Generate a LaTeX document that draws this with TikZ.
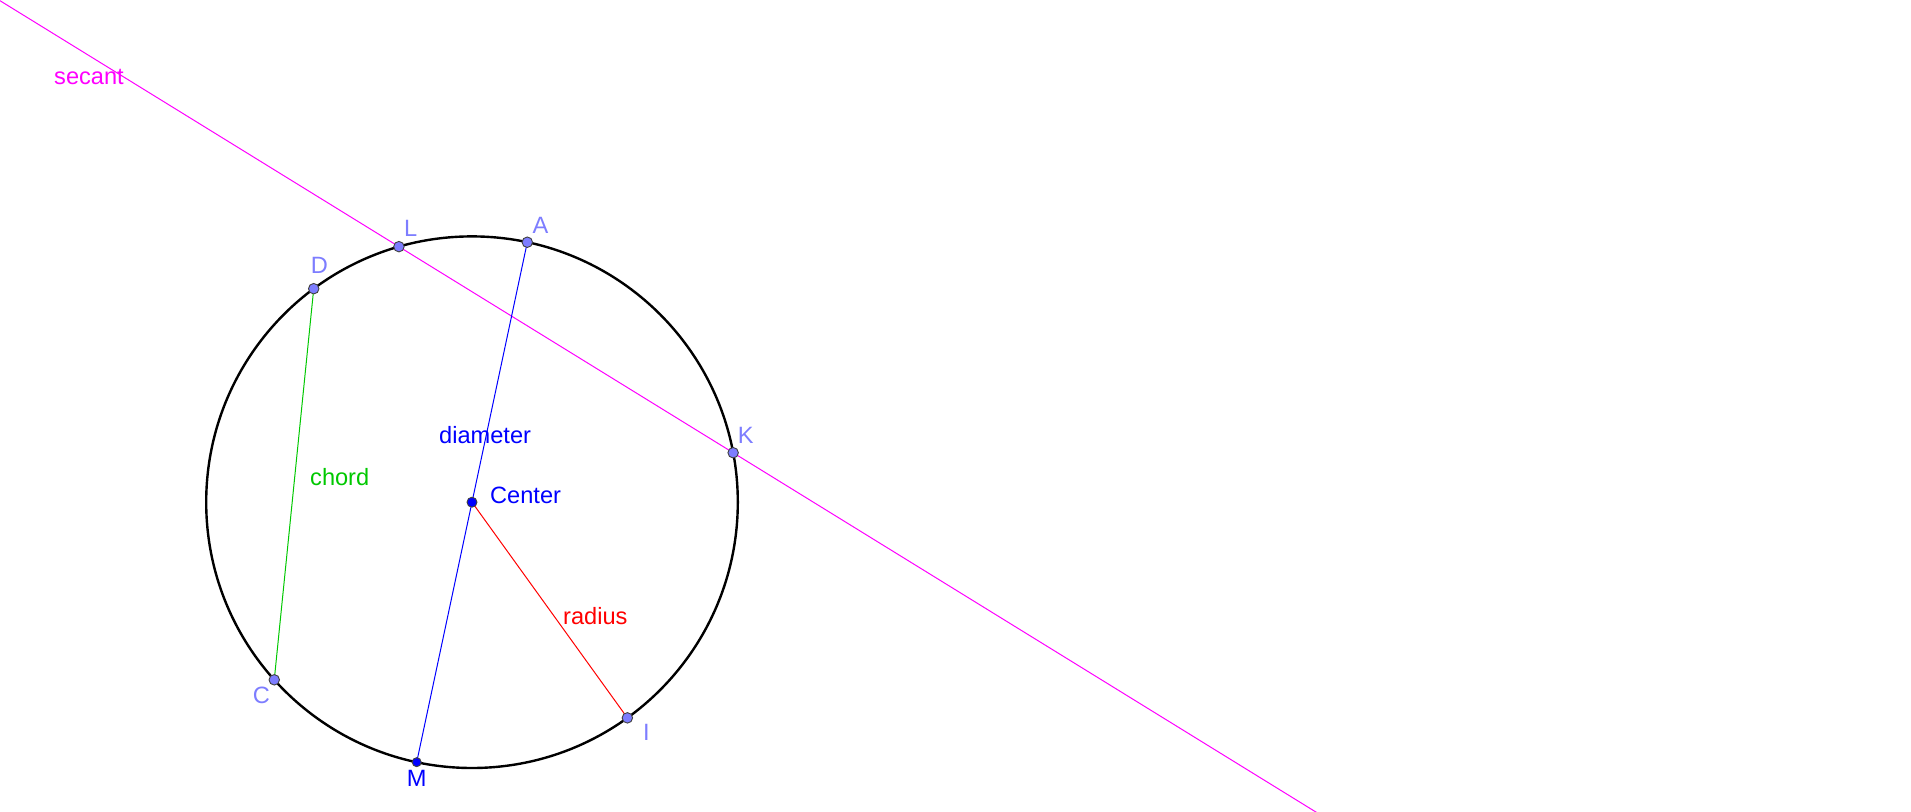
\documentclass[tikz,border=0pt]{standalone}
\usepackage{fontspec}
\setmainfont{Liberation Sans}
\usetikzlibrary{calc}
\definecolor{ptblue}{RGB}{125,125,255}
\definecolor{dblue}{RGB}{0,0,255}
\definecolor{cgreen}{RGB}{0,200,0}
\definecolor{cred}{RGB}{255,0,0}
\definecolor{cmag}{RGB}{255,0,255}
\tikzset{
  ptdot/.style={circle, draw=black!75, line width=0.9pt, fill=ptblue, minimum size=10.5pt, inner sep=0pt},
  ctdot/.style={circle, draw=black!75, line width=0.9pt, fill=dblue, minimum size=10pt, inner sep=0pt},
  lbl/.style={anchor=base west, inner sep=0pt, font=\fontsize{23.6}{28}\selectfont},
  thinline/.style={line width=1pt},
}
\begin{document}
\begin{tikzpicture}[x=1pt,y=-1pt]
\useasboundingbox (0,0) rectangle (1911,811);
\coordinate (O) at (472,502.2);
\coordinate (cL) at ($(O)+(105.96:265.8pt)$);
\coordinate (cA) at ($(O)+(77.99:265.8pt)$);
\coordinate (cD) at ($(O)+(126.55:265.8pt)$);
\coordinate (cK) at ($(O)+(10.73:265.8pt)$);
\coordinate (cC) at ($(O)+(221.93:265.8pt)$);
\coordinate (cI) at ($(O)+(305.77:265.8pt)$);
\coordinate (cM) at ($(O)+(257.99:265.8pt)$);
\coordinate (S1) at ($(cL)!-1.2!(cK)$);
\coordinate (S2) at ($(cL)!2.76!(cK)$);
% circle
\node[circle, draw=black, line width=2.4pt, minimum size=531.6pt, inner sep=0pt] (circ) at (O) {};
% lines
\draw[thinline, cmag] (S1) -- (S2);
\draw[thinline, dblue] (cA) -- (cM);
\draw[thinline, cgreen] (cD) -- (cC);
\draw[thinline, cred] (O) -- (cI);
% points
\node[ptdot] (L) at (cL) {};
\node[ptdot] (A) at (cA) {};
\node[ptdot] (D) at (cD) {};
\node[ptdot] (K) at (cK) {};
\node[ptdot] (C) at (cC) {};
\node[ptdot] (I) at (cI) {};
\node[ctdot, minimum size=9pt] (M) at (cM) {};
\node[ctdot] (Ctr) at (O) {};
% labels
\node[lbl, text=cmag] (tsec) at (54,84) {secant};
\node[lbl, text=dblue] (tdia) at (439,443) {diameter};
\node[lbl, text=dblue] (tctr) at (490,503.3) {Center};
\node[lbl, text=cgreen] (tch) at (310,485.3) {chord};
\node[lbl, text=cred] (trad) at (563,624) {radius};
\node[lbl, text=ptblue] (tL) at (404,236.7) {L};
\node[lbl, text=ptblue] (tA) at (532.3,233.3) {A};
\node[lbl, text=ptblue] (tD) at (310.7,273.3) {D};
\node[lbl, text=ptblue] (tK) at (737.7,443.3) {K};
\node[lbl, text=ptblue] (tC) at (252.7,703.3) {C};
\node[lbl, text=ptblue] (tI) at (643,740) {I};
\node[lbl, text=dblue] (tM) at (406.7,786) {M};
\end{tikzpicture}
\end{document}
